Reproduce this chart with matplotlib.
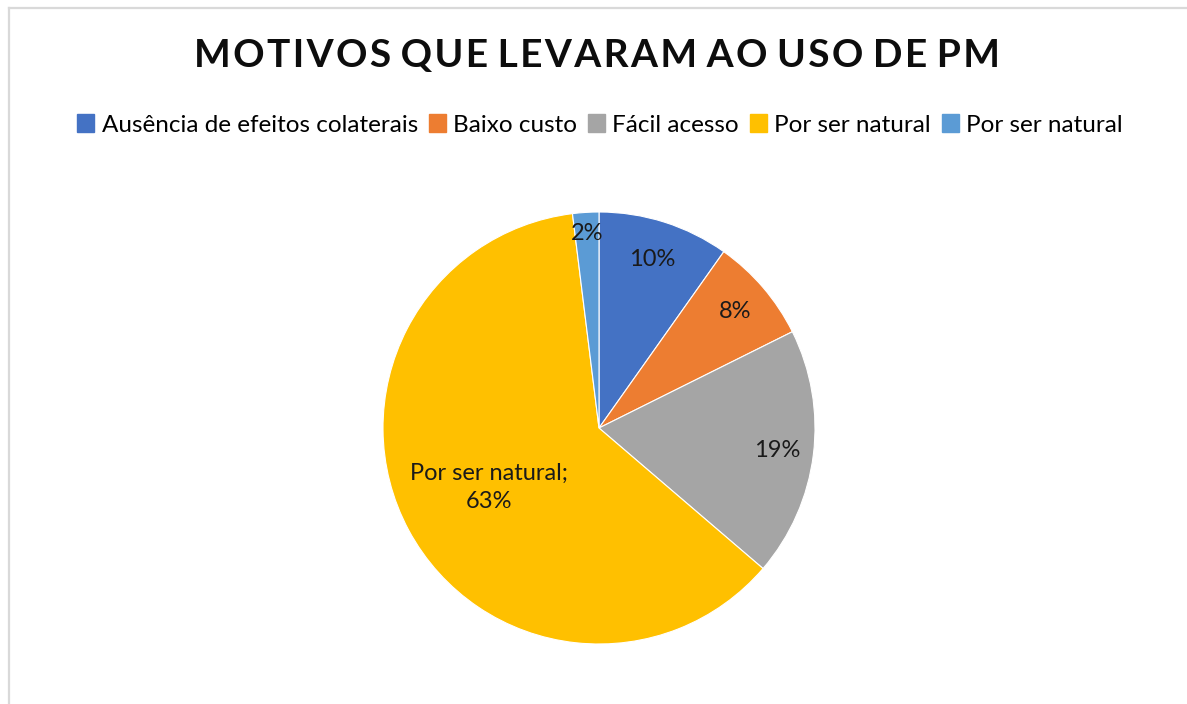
import numpy as np
import matplotlib.pyplot as plt
from matplotlib.lines import Line2D

# Data
categories = ['Ausência de efeitos colaterais', 'Baixo custo', 'Fácil acesso',
              'Por ser natural', 'Por ser natural']
values = [10, 8, 19, 63, 2]
value_labels = ['10%', '8%', '19%', 'Por ser natural;\n63%', '2%']
colors = ['#4472C4', '#ED7D31', '#A5A5A5', '#FFC000', '#5B9BD5']
title = 'MOTIVOS QUE LEVARAM AO USO DE PM'

plt.rcParams['font.family'] = ['Lato', 'DejaVu Sans']

W, H = 1187, 704
fig = plt.figure(figsize=(W / 100, H / 100), dpi=100)

# pie area (pixels): center (599, 428), radius 216
cx, cy, r = 599, 428, 216
ax = fig.add_axes([(cx - r) / W, (H - cy - r) / H, 2 * r / W, 2 * r / H])
wedges, _ = ax.pie(values, colors=colors, startangle=90, counterclock=False,
                   wedgeprops=dict(edgecolor='white', linewidth=0.8))
ax.set_xlim(-1, 1)
ax.set_ylim(-1, 1)
ax.set_aspect('equal')

# label radii per slice
radii = [0.82, 0.83, 0.83, 0.58, 0.90]
for w, lab, rr in zip(wedges, value_labels, radii):
    ang = np.deg2rad((w.theta1 + w.theta2) / 2)
    ax.text(rr * np.cos(ang), rr * np.sin(ang), lab, ha='center', va='center',
            fontsize=17, color='#1a1a1a', linespacing=1.45)

# letter-spaced title
spaced = ' '.join('\u200a'.join(word) for word in title.split(' '))
fig.text(597 / W, 1 - 55 / H, spaced, ha='center', va='center',
         fontsize=28, fontweight='bold', color='#0d0d0d')

handles = [plt.Rectangle((0, 0), 1, 1, color=c) for c in colors]
fig.legend(handles, categories, loc='center', bbox_to_anchor=(600 / W, 1 - 125 / H),
           ncol=5, frameon=False, fontsize=17.5, handlelength=0.7, handleheight=0.7,
           handletextpad=0.3, columnspacing=0.45)

# light gray chart border (top and left)
fig.add_artist(Line2D([9 / W, 1], [1 - 8 / H, 1 - 8 / H], color='#D9D9D9', lw=1.6))
fig.add_artist(Line2D([9 / W, 9 / W], [0, 1 - 8 / H], color='#D9D9D9', lw=1.6))

fig.savefig('out.png', dpi=100, facecolor='white')
